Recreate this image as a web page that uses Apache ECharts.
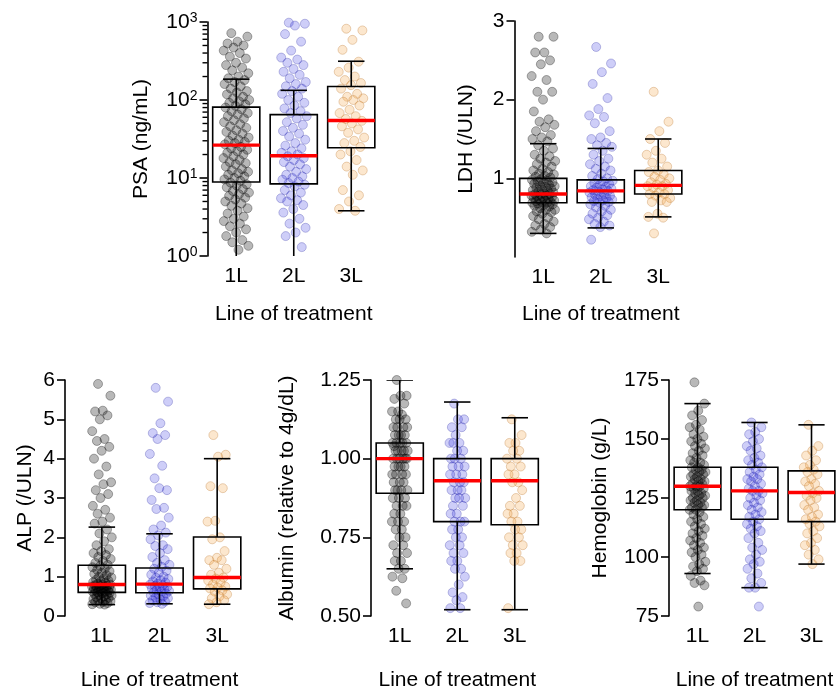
<!DOCTYPE html>
<html>
<head>
<meta charset="utf-8">
<script src="https://cdn.jsdelivr.net/npm/echarts@6/dist/echarts.min.js"></script>
<style>
  html, body { margin: 0; padding: 0; background: #ffffff; }
  #chart { width: 840px; height: 692px; }
</style>
</head>
<body>
<div id="chart"></div>
<script>
// Treatment lines shown on every panel
const categories = ['1L', '2L', '3L'];

// PSA (ng/mL), individual patients per line of treatment
const psa1L = [720, 650, 560, 530, 500, 470, 430, 400, 360, 340, 300, 280, 260, 240, 220, 200, 190,
  180, 170, 160, 150, 140, 130, 125, 118, 110, 105, 100, 96, 92, 88, 84,
  80, 76, 72, 68, 65, 62, 58, 55, 52, 49, 46, 44, 41, 39, 37, 35, 33, 31, 30, 29, 28, 27,
  25, 24, 23, 22, 21, 20, 19, 18, 17, 16, 15.5, 15, 14, 13, 12.5, 12, 11.5, 11, 10.5, 10, 9.6, 9.2,
  8.7, 8.3, 8, 7.6, 7.2, 6.8, 6.5, 6.2, 5.9, 5.6, 5.3, 5, 4.7, 4.4, 4.1, 3.8, 3.5, 3.2, 3, 2.8, 2.6,
  2.4, 2.2, 2, 1.8, 1.6, 1.5, 1.35, 1.2];
const psa2L = [980, 950, 900, 700, 560, 430, 350, 330, 300, 280, 250, 230, 210, 190, 170, 160, 150, 140,
  130, 120, 110, 100, 92, 85, 78, 72, 68,
  62, 58, 52, 48, 44, 40, 37, 34, 31, 28, 26, 24, 22, 21, 20,
  19, 18, 17, 16, 15, 14, 13, 12, 11, 10.5, 10, 9.5, 9, 8.6,
  8.2, 7.8, 7, 6.5, 6, 5.5, 5.2, 5, 4.5, 4, 3.6, 3, 2.6, 2.3, 2, 1.8, 1.3];
const psa3L = [820, 780, 590, 440, 310, 260, 230, 200, 180, 165, 155, 140, 120, 110, 105, 100, 95, 85,
  75, 68, 62, 57, 54, 50, 46, 42, 38, 33, 30, 28, 25, 22, 20, 17, 14, 12.5, 11, 7, 6, 5, 4, 3.8];

// LDH (/ULN)
const ldh1L = [2.8, 2.8, 2.6, 2.6, 2.5, 2.45, 2.3, 2.25, 2.1, 2.1, 2.0, 1.85, 1.75, 1.72, 1.68, 1.65, 1.6,
  1.55, 1.52, 1.5, 1.47,
  1.42, 1.38, 1.35, 1.3, 1.28, 1.25, 1.22, 1.2, 1.18, 1.15, 1.12, 1.1, 1.08, 1.06, 1.05, 1.03, 1.02, 1.01,
  0.99, 0.98, 0.97, 0.96, 0.95, 0.94, 0.93, 0.92, 0.91, 0.9, 0.89, 0.88, 0.87, 0.86, 0.85, 0.84, 0.83,
  0.82, 0.81, 0.8, 0.8,
  0.79, 0.78, 0.78, 0.77, 0.76, 0.75, 0.75, 0.74, 0.73, 0.72, 0.72, 0.71, 0.7, 0.7, 0.69, 0.69,
  0.68, 0.67, 0.66, 0.65, 0.64, 0.62, 0.6, 0.6, 0.58, 0.57, 0.55, 0.52, 0.5, 0.48, 0.45, 0.42, 0.4,
  0.38, 0.35, 0.32, 0.3];
const ldh2L = [2.67, 2.46, 2.35, 2.2, 2.02, 1.88, 1.8, 1.78, 1.7, 1.6, 1.52, 1.5, 1.45, 1.42, 1.4,
  1.35, 1.3, 1.25, 1.22, 1.18, 1.15, 1.12, 1.1, 1.06, 1.03, 1.0, 0.99,
  0.97, 0.96, 0.94, 0.93, 0.92, 0.9, 0.89, 0.88, 0.87, 0.86, 0.85, 0.84,
  0.83, 0.82, 0.8, 0.79, 0.78, 0.77, 0.76, 0.75, 0.74, 0.73, 0.72, 0.71, 0.7, 0.69,
  0.67, 0.65, 0.63, 0.6, 0.58, 0.55, 0.53, 0.5, 0.48, 0.45, 0.42, 0.4, 0.38, 0.22];
const ldh3L = [2.1, 1.72, 1.6, 1.5, 1.45, 1.35, 1.3, 1.25, 1.2, 1.15, 1.1, 1.08, 1.05, 1.02, 1.0, 0.98,
  0.95, 0.93, 0.92, 0.9, 0.9, 0.88, 0.85, 0.82, 0.8, 0.8, 0.78, 0.75, 0.72, 0.7, 0.7, 0.55, 0.51, 0.5, 0.3];

// ALP (/ULN)
const alp1L = [5.9, 5.6, 5.22, 5.2, 5.1, 5.0, 4.7, 4.5, 4.45, 4.3, 4.2, 4.0, 3.8, 3.6, 3.4, 3.35, 3.2, 3.1,
  3.0, 2.8, 2.7, 2.6, 2.5, 2.4, 2.35,
  2.2, 2.1, 2.0, 1.9, 1.8, 1.7, 1.65, 1.6, 1.55, 1.5, 1.45, 1.4, 1.35, 1.3,
  1.27, 1.24, 1.2, 1.17, 1.14, 1.1, 1.07, 1.04, 1.0, 0.98, 0.95, 0.92, 0.9, 0.88, 0.86, 0.84, 0.82, 0.8,
  0.79, 0.78, 0.77, 0.76, 0.75, 0.74, 0.73, 0.72, 0.71, 0.7, 0.69, 0.68, 0.67, 0.66, 0.65, 0.64, 0.63,
  0.62, 0.61, 0.6,
  0.59, 0.58, 0.56, 0.55, 0.54, 0.52, 0.5, 0.48, 0.46, 0.45, 0.43, 0.42, 0.4, 0.38, 0.36, 0.35, 0.33,
  0.31, 0.3, 0.29];
const alp2L = [5.8, 5.45, 4.9, 4.65, 4.6, 4.5, 4.12, 3.82, 3.5, 3.2, 3.25, 2.95, 2.75, 2.72, 2.5, 2.3, 2.2, 2.12,
  2.05, 1.95, 1.8, 1.78, 1.7, 1.6, 1.5, 1.42, 1.35, 1.3, 1.25,
  1.2, 1.15, 1.1, 1.05, 1.0, 0.97, 0.94, 0.91, 0.88, 0.85, 0.82,
  0.8, 0.78, 0.76, 0.74, 0.72, 0.7, 0.68, 0.66, 0.64, 0.62, 0.6,
  0.57, 0.55, 0.52, 0.5, 0.47, 0.45, 0.42, 0.4, 0.37, 0.35, 0.33, 0.31];
const alp3L = [4.6, 4.1, 4.05, 3.3, 3.25, 2.42, 2.4, 2.0, 1.95, 1.65, 1.48, 1.42, 1.42, 1.3, 1.2, 1.1, 1.05,
  0.98, 0.95, 0.9, 0.85, 0.8, 0.75, 0.72, 0.7, 0.65, 0.62, 0.55, 0.5, 0.45, 0.4, 0.35, 0.3];

// Albumin, relative to 4 g/dL
const alb1L = [1.25, 1.2, 1.2, 1.19, 1.175, 1.15, 1.15, 1.14, 1.125, 1.125, 1.125, 1.1, 1.1, 1.1, 1.1,
  1.075, 1.075, 1.075, 1.075, 1.05, 1.05, 1.05, 1.05, 1.05, 1.04, 1.025, 1.025, 1.025, 1.025, 1.025,
  1.0, 1.0, 1.0, 1.0, 1.0, 1.0, 0.975, 0.975, 0.975, 0.975, 0.95, 0.95, 0.95, 0.95, 0.925, 0.925, 0.925,
  0.9, 0.9, 0.9, 0.9, 0.875, 0.875, 0.875, 0.85, 0.85, 0.85, 0.825, 0.825, 0.8, 0.8, 0.8, 0.775, 0.775,
  0.75, 0.75, 0.725, 0.725, 0.7, 0.7, 0.675, 0.675, 0.65, 0.65, 0.625, 0.62, 0.58, 0.54];
const alb2L = [1.175, 1.125, 1.125, 1.1, 1.1, 1.075, 1.05, 1.05, 1.05, 1.025, 1.025, 1.0, 1.0, 1.0,
  0.975, 0.975, 0.975, 0.95, 0.95, 0.95, 0.925, 0.925, 0.925, 0.9, 0.9, 0.9, 0.875, 0.875, 0.875,
  0.85, 0.85, 0.825, 0.825, 0.8, 0.8, 0.8, 0.775, 0.775, 0.75, 0.75, 0.725, 0.725, 0.7, 0.7, 0.675,
  0.675, 0.65, 0.65, 0.625, 0.6, 0.575, 0.56, 0.55, 0.525, 0.525];
const alb3L = [1.125, 1.075, 1.05, 1.05, 1.025, 1.025, 1.0, 1.0, 0.975, 0.975, 0.95, 0.95, 0.925, 0.925,
  0.9, 0.875, 0.85, 0.85, 0.825, 0.825, 0.8, 0.8, 0.775, 0.775, 0.75, 0.75, 0.725, 0.725, 0.7, 0.7,
  0.675, 0.675, 0.525];

// Hemoglobin (g/L)
const hgb1L = [174, 165, 162, 160, 158, 156, 155, 154, 152, 151, 150, 149, 148, 147, 146, 145, 144, 143,
  142, 141, 140, 140, 139, 138, 138, 137, 137, 136, 136, 135, 135, 134, 134, 133, 133, 132, 132, 131,
  131, 130, 130, 130, 129, 129, 128, 128, 127, 127, 126, 126, 125, 125, 124, 124, 123, 123, 122, 122,
  121, 121, 120, 120, 119, 118, 117, 116, 115, 114, 113, 112, 111, 110, 109, 108, 107, 106, 105, 104,
  103, 102, 101, 100, 98, 97, 96, 95, 94, 92, 90, 89, 88, 79];
const hgb2L = [157, 155, 153, 152, 150, 149, 147, 146, 145, 143, 142, 141, 140, 139, 138, 137, 136, 135,
  134, 133, 133, 132, 131, 130, 129, 128, 128, 127, 126, 125, 124, 123, 122, 121, 120, 119, 118, 117,
  116, 115, 114, 113, 112, 111, 110, 108, 106, 104, 103, 101, 99, 98, 97, 95, 93, 91, 89, 87, 87, 79];
const hgb3L = [156, 147, 145, 143, 141, 139, 138, 137, 136, 135, 133, 132, 131, 130, 128, 127, 126, 125,
  124, 122, 121, 120, 118, 117, 116, 115, 114, 113, 111, 110, 108, 106, 105, 103, 101, 99, 97];

// Box summaries per line: [lower whisker, Q1, median, Q3, upper whisker]
const psaBox = [[0.8, 8.9, 26.4, 81, 185], [0.8, 8.4, 19.3, 65, 133], [3.8, 24.4, 54.6, 149, 314]];
const ldhBox = [[0.30, 0.69, 0.80, 1.00, 1.44], [0.37, 0.69, 0.84, 0.98, 1.38], [0.51, 0.80, 0.91, 1.10, 1.50]];
const alpBox = [[0.29, 0.60, 0.80, 1.29, 2.26], [0.31, 0.59, 0.81, 1.22, 2.09], [0.30, 0.69, 0.98, 2.01, 4.00]];
const albBox = [[0.65, 0.89, 1.00, 1.05, 1.25], [0.52, 0.80, 0.93, 1.00, 1.18], [0.52, 0.79, 0.93, 1.00, 1.13]];
const hgbBox = [[93, 120, 130, 138, 165], [87, 116, 128, 138, 157], [97, 115, 127.3, 136.5, 156]];

// Y-axis tick values
const psaTicks = [1, 10, 100, 1000];
const psaMinorTicks = [2, 3, 4, 5, 6, 7, 8, 9, 20, 30, 40, 50, 60, 70, 80, 90, 200, 300, 400, 500, 600, 700, 800, 900];
const ldhTicks = [1, 2, 3];
const alpTicks = [0, 1, 2, 3, 4, 5, 6];
const albTicks = [0.5, 0.75, 1.0, 1.25];
const hgbTicks = [75, 100, 125, 150, 175];

const FONT = "'Liberation Sans', Arial, Helvetica, sans-serif";
const BLACK = '#000000';

const pointStyles = [
  { color: 'rgba(0,0,0,0.35)', borderColor: 'rgba(0,0,0,0.48)', borderWidth: 0.8 },
  { color: 'rgba(35,35,225,0.28)', borderColor: 'rgba(20,20,150,0.4)', borderWidth: 0.8 },
  { color: 'rgba(245,170,80,0.35)', borderColor: 'rgba(185,115,45,0.5)', borderWidth: 0.8 }
];

// Horizontal spread of the dots around each category centre (layout only)
const spread = i => ((i * 0.6180339887 + 0.31) % 1) * 2 - 1;

const panels = [
  { title: 'PSA (ng/mL)', points: [psa1L, psa2L, psa3L], box: psaBox,
    grid: { left: 207.5, top: 22, width: 172.5, height: 234 },
    log: true, min: 1, max: 1000, ticks: psaTicks, minor: psaMinorTicks,
    offset: 0, nameGap: 56, xNameGap: 48, jitter: 13 },
  { title: 'LDH (/ULN)', points: [ldh1L, ldh2L, ldh3L], box: ldhBox,
    grid: { left: 514.5, top: 21, width: 172.5, height: 236 },
    min: 0, max: 3, ticks: ldhTicks, fmt: v => String(v),
    offset: 0, nameGap: 38, xNameGap: 47, jitter: 12 },
  { title: 'ALP (/ULN)', points: [alp1L, alp2L, alp3L], box: alpBox,
    grid: { left: 73, top: 380, width: 173, height: 236 },
    min: 0, max: 6, ticks: alpTicks, fmt: v => String(v),
    offset: 8, nameGap: 29, xNameGap: 54, jitter: 10 },
  { title: 'Albumin (relative to 4g/dL)', points: [alb1L, alb2L, alb3L], box: albBox,
    grid: { left: 371, top: 380, width: 172.5, height: 236 },
    min: 0.5, max: 1.25, ticks: albTicks, fmt: v => v.toFixed(2),
    offset: 0, nameGap: 73, xNameGap: 54, jitter: 8 },
  { title: 'Hemoglobin (g/L)', points: [hgb1L, hgb2L, hgb3L], box: hgbBox,
    grid: { left: 669, top: 380, width: 172.5, height: 236 },
    min: 75, max: 175, ticks: hgbTicks, fmt: v => String(v),
    offset: 0, nameGap: 58, xNameGap: 54, jitter: 8 }
];

function renderBox(params, api) {
  const c = api.value(0);
  const lo = api.coord([c, api.value(1)]);
  const q1 = api.coord([c, api.value(2)]);
  const med = api.coord([c, api.value(3)]);
  const q3 = api.coord([c, api.value(4)]);
  const hi = api.coord([c, api.value(5)]);
  const band = api.size([1, api.value(3)])[0];
  const bw = band * 0.82;
  const cw = band * 0.46;
  const x = med[0];
  const ls = { stroke: BLACK, lineWidth: 1.6, fill: null };
  return {
    type: 'group',
    children: [
      { type: 'line', shape: { x1: x, y1: hi[1], x2: x, y2: q3[1] }, style: ls },
      { type: 'line', shape: { x1: x, y1: q1[1], x2: x, y2: lo[1] }, style: ls },
      { type: 'line', shape: { x1: x - cw / 2, y1: hi[1], x2: x + cw / 2, y2: hi[1] }, style: ls },
      { type: 'line', shape: { x1: x - cw / 2, y1: lo[1], x2: x + cw / 2, y2: lo[1] }, style: ls },
      { type: 'rect', shape: { x: x - bw / 2, y: q3[1], width: bw, height: q1[1] - q3[1] },
        style: { fill: null, stroke: BLACK, lineWidth: 1.6 } },
      { type: 'line', shape: { x1: x - bw / 2, y1: med[1], x2: x + bw / 2, y2: med[1] },
        style: { stroke: '#ff0000', lineWidth: 3.4 } }
    ]
  };
}

// Short unlabelled ticks between decades on the log axis
function minorTickRenderer(axisOffset) {
  return function (params, api) {
    const y = api.coord([0, api.value(1)])[1];
    const x0 = params.coordSys.x - axisOffset;
    return { type: 'line', shape: { x1: x0 - 5, y1: y, x2: x0, y2: y },
      style: { stroke: BLACK, lineWidth: 1.4 } };
  };
}

const grids = [], xAxes = [], yAxes = [], series = [];
const axisLine = { show: true, lineStyle: { color: BLACK, width: 1.6 } };

panels.forEach((p, k) => {
  grids.push(Object.assign({ containLabel: false }, p.grid));
  xAxes.push({
    type: 'category', gridIndex: k, data: categories, boundaryGap: true,
    axisLine: { show: false }, axisTick: { show: false }, splitLine: { show: false },
    axisLabel: { color: BLACK, fontSize: 21, fontFamily: FONT, margin: 10 },
    name: 'Line of treatment', nameLocation: 'middle', nameGap: p.xNameGap,
    nameTextStyle: { color: BLACK, fontSize: 21, fontFamily: FONT }
  });
  const yi = yAxes.length;
  const nameCfg = {
    name: p.title, nameLocation: 'middle', nameGap: p.nameGap,
    nameTextStyle: { color: BLACK, fontSize: 21, fontFamily: FONT }
  };
  if (p.log) {
    yAxes.push(Object.assign({
      type: 'log', logBase: 10, gridIndex: k, position: 'left', min: p.min, max: p.max, offset: p.offset,
      axisLine: axisLine, splitLine: { show: false },
      axisTick: { show: true, length: 8, lineStyle: { color: BLACK, width: 1.6 }, customValues: p.ticks },
      axisLabel: {
        customValues: p.ticks, margin: 10, color: BLACK,
        formatter: v => '{b|10}{s|' + Math.round(Math.log10(v)) + '}',
        rich: {
          b: { fontSize: 21, fontFamily: FONT, color: BLACK },
          s: { fontSize: 14, fontFamily: FONT, color: BLACK, verticalAlign: 'top' }
        }
      }
    }, nameCfg));
    series.push({
      type: 'custom', xAxisIndex: k, yAxisIndex: yi, z: 6, clip: false, silent: true,
      renderItem: minorTickRenderer(p.offset),
      encode: { x: 0, y: 1 },
      data: p.minor.map(v => [0, v])
    });
  } else {
    yAxes.push(Object.assign({
      type: 'value', gridIndex: k, position: 'left', min: p.min, max: p.max, offset: p.offset,
      axisLine: axisLine, splitLine: { show: false },
      axisTick: { show: true, length: 8, lineStyle: { color: BLACK, width: 1.6 }, customValues: p.ticks },
      axisLabel: { customValues: p.ticks, margin: 10, color: BLACK, fontSize: 21, fontFamily: FONT,
        formatter: p.fmt }
    }, nameCfg));
  }

  p.points.forEach((vals, j) => {
    series.push({
      type: 'scatter', xAxisIndex: k, yAxisIndex: yi, z: 2, clip: true,
      symbol: 'circle', symbolSize: 9, itemStyle: pointStyles[j],
      emphasis: { disabled: true },
      data: vals.map((v, i) => ({ value: [categories[j], v], symbolOffset: [spread(i) * p.jitter, 0] }))
    });
  });

  series.push({
    type: 'custom', xAxisIndex: k, yAxisIndex: yi, z: 5, clip: true,
    renderItem: renderBox,
    encode: { x: 0, y: [1, 2, 3, 4, 5] },
    data: p.box.map((b, j) => [j].concat(b))
  });
});

const chart = echarts.init(document.getElementById('chart'), null, { renderer: 'canvas' });
chart.setOption({
  animation: false,
  backgroundColor: '#ffffff',
  textStyle: { fontFamily: FONT },
  grid: grids,
  xAxis: xAxes,
  yAxis: yAxes,
  series: series
});
</script>
</body>
</html>
